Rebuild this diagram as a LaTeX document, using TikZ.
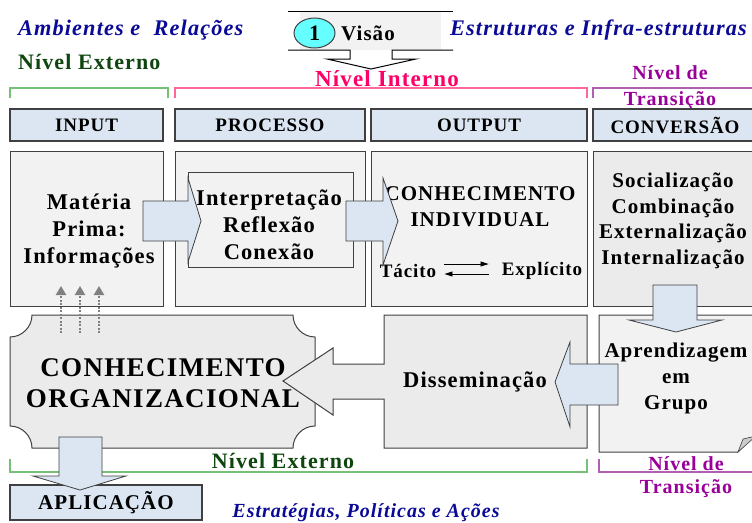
\documentclass[tikz,border=0pt]{standalone}
\usepackage{fontspec}
\setmainfont{Liberation Serif}[LetterSpace=5]
\usetikzlibrary{arrows.meta,shapes.geometric}
\definecolor{lblue}{HTML}{DCE6F2}
\definecolor{gfill}{HTML}{F2F2F2}
\definecolor{gfill2}{HTML}{EBEBEB}
\definecolor{bord}{HTML}{404040}
\definecolor{tblue}{HTML}{0A0A96}
\definecolor{dgreen}{HTML}{0F460F}
\definecolor{pinkc}{HTML}{FF0066}
\definecolor{purp}{HTML}{990099}
\definecolor{lgreen}{HTML}{78C078}
\definecolor{lpink}{HTML}{FF6699}
\definecolor{lpurp}{HTML}{B060B0}
\definecolor{cyanc}{HTML}{66FFFF}
\definecolor{dotgrey}{HTML}{808080}
\tikzset{
  hdr/.style={draw=bord, line width=1.2pt, fill=lblue, minimum height=32, inner sep=0, font=\fontsize{19}{22}\selectfont\bfseries},
  cell/.style={draw=bord, line width=1pt, fill=gfill, minimum height=155, inner sep=0},
  blk/.style={draw=bord, line width=0.8pt, fill=lblue, line join=miter},
  txt/.style={align=center, inner sep=0, font=\fontsize{22.5}{27}\selectfont\bfseries},
  lbl/.style={align=center, inner sep=0, font=\fontsize{22}{26}\selectfont\bfseries},
  ital/.style={inner sep=0, text=tblue, font=\fontsize{22.3}{24}\selectfont\bfseries\itshape},
  tarr/.style={line width=0.8pt, -{Triangle[width=5pt,length=8pt]}},
  dotarr/.style={dotgrey, line width=2.5pt, dash pattern=on 2pt off 1.5pt, -{Triangle[width=10pt,length=9pt]}},
  brk/.style={line width=1.1pt}
}
\begin{document}
\begin{tikzpicture}[x=1pt,y=-1pt]
\useasboundingbox (0,0) rectangle (752,522);
% top callout
\fill[gfill] (300,11) rectangle (441,50);
\draw[line width=1pt] (288,11) -- (453,11);
\draw[line width=1pt, line join=miter] (288,50) -- (350,50) -- (350,59) -- (327,59) -- (371,69) -- (416,59) -- (392,59) -- (392,50) -- (453,50);
\node[ellipse, draw=bord, line width=1pt, fill=cyanc, minimum width=41, minimum height=30, inner sep=0, font=\fontsize{22}{24}\selectfont\bfseries] (one) at (314.5,33) {1};
\node[inner sep=0, font=\fontsize{21}{24}\selectfont\bfseries] (vis) at (368,33) {Visão};
% top labels
\node[ital, anchor=west] (amb) at (18,30) {Ambientes e\ \ Relações};
\node[ital, anchor=west] (est) at (450,30) {Estruturas e Infra-estruturas};
\node[lbl, anchor=west, text=dgreen] (nex) at (18,62) {Nível Externo};
\node[lbl, text=pinkc, font=\fontsize{23}{26}\selectfont\bfseries] (nin) at (387,79) {Nível Interno};
\node[lbl, text=purp, font=\fontsize{20}{26}\selectfont\bfseries] (ntr) at (670,88) {Nível de\\Transição};
% brackets
\draw[brk, lgreen] (10,98) -- (10,88) -- (168,88) -- (168,98);
\draw[brk, lpink] (175,98) -- (175,88) -- (587,88) -- (587,98);
\draw[brk, lpurp] (593,98) -- (593,88) -- (760,88);
% header row
\node[hdr, minimum width=153] (inH) at (86.5,125) {INPUT};
\node[hdr, minimum width=190] (prH) at (270,125) {PROCESSO};
\node[hdr, minimum width=216] (ouH) at (479,125) {OUTPUT};
\node[hdr, minimum width=164] (cvH) at (675,125) {CONVERSÃO};
% middle row
\node[cell, minimum width=153] (inB) at (86.5,228.5) {};
\node[cell, minimum width=190] (prB) at (270,228.5) {};
\node[cell, minimum width=216] (ouB) at (479,228.5) {};
\node[cell, fill=gfill2, minimum width=164] (cvB) at (675,228.5) {};
\node[txt] (mat) at (89,231) {Matéria\\Prima:\\Informações};
\node[draw=bord, line width=1pt, fill=gfill, minimum width=165, minimum height=95, inner sep=0] (irc) at (270.5,220) {};
\node[txt] (irctxt) at (269,225) {Interpretação\\Reflexão\\Conexão};
\node[txt, font=\fontsize{21}{26}\selectfont\bfseries] (ci) at (480,207) {CONHECIMENTO\\INDIVIDUAL};
\node[inner sep=0, font=\fontsize{19}{22}\selectfont\bfseries] (tac) at (408,271) {Tácito};
\node[inner sep=0, font=\fontsize{19}{22}\selectfont\bfseries] (exp) at (542,271) {Explícito};
\draw[tarr] ([shift={(8,-7)}]tac.east) -- ([shift={(-13,-7)}]exp.west);
\draw[tarr] ([shift={(-13,3)}]exp.west) -- ([shift={(8,3)}]tac.east);
\node[txt, font=\fontsize{21}{25.5}\selectfont\bfseries] (soc) at (673,221) {Socialização\\Combinação\\Externalização\\Internalização};
% block arrows of middle row
\draw[blk] (143,201) -- (188,201) -- (188,178) -- (201,221) -- (188,262) -- (188,241) -- (143,241) -- cycle;
\draw[blk] (346,201) -- (383,201) -- (383,178) -- (398,221) -- (383,265) -- (383,241) -- (346,241) -- cycle;
% bottom row
\draw[draw=bord, line width=1pt, fill=gfill2] (32,315) -- (293,315) .. controls (293,327) and (303,337) .. (315,337) -- (315,426) .. controls (303,426) and (293,436) .. (293,448) -- (32,448) .. controls (32,436) and (22,426) .. (10,426) -- (10,337) .. controls (22,337) and (32,327) .. (32,315) -- cycle;
\node[inner sep=0, align=center, font=\fontsize{27}{31}\selectfont\bfseries] (org) at (163,383) {CONHECIMENTO\\ORGANIZACIONAL};
\draw[draw=bord, line width=1pt, fill=gfill2, line join=miter] (384,315) -- (587,315) -- (587,448) -- (384,448) -- (384,399) -- (333,399) -- (333,415) -- (283,381) -- (333,348) -- (333,364) -- (384,364) -- cycle;
\node[txt] (dis) at (475,382) {Disseminação};
\draw[draw=bord, line width=1pt, fill=gfill] (599,315) -- (770,315) -- (770,420) -- (738,452) -- (599,452) -- cycle;
\fill[draw=bord, line width=0.6pt, fill=lightgray!80] (738,452) -- (743,439) -- (756,436) -- cycle;
\node[txt, font=\fontsize{21}{26}\selectfont\bfseries] (apr) at (676,378) {Aprendizagem\\em\\Grupo};
\draw[blk] (653,285) -- (697,285) -- (697,320) -- (722,320) -- (676,332) -- (629,320) -- (653,320) -- cycle;
\draw[blk] (618,364) -- (570,364) -- (570,342) -- (555,382) -- (570,427) -- (570,405) -- (618,405) -- cycle;
% bottom brackets and labels
\draw[brk, lgreen] (10,459) -- (10,472) -- (587,472) -- (587,459);
\draw[brk, lpurp] (599,459) -- (599,472) -- (760,472);
\node[lbl, text=dgreen] (nex2) at (283,461) {Nível Externo};
\node[lbl, text=purp, font=\fontsize{20}{23}\selectfont\bfseries] (ntr2) at (686,477) {Nível de\\Transição};
\node[hdr, minimum width=192, minimum height=35, font=\fontsize{21}{24}\selectfont\bfseries] (apl) at (106,502.5) {APLICAÇÃO};
\draw[blk] (59,437) -- (102,437) -- (102,476) -- (126,476) -- (80,490) -- (33,476) -- (59,476) -- cycle;
\node[ital, font=\fontsize{20}{22}\selectfont\bfseries\itshape] (estr) at (366,513) {Estratégias, Políticas e Ações};
% dotted arrows
\foreach \x in {61,80,99} \draw[dotarr] (\x,333) -- (\x,286);
\end{tikzpicture}
\end{document}
